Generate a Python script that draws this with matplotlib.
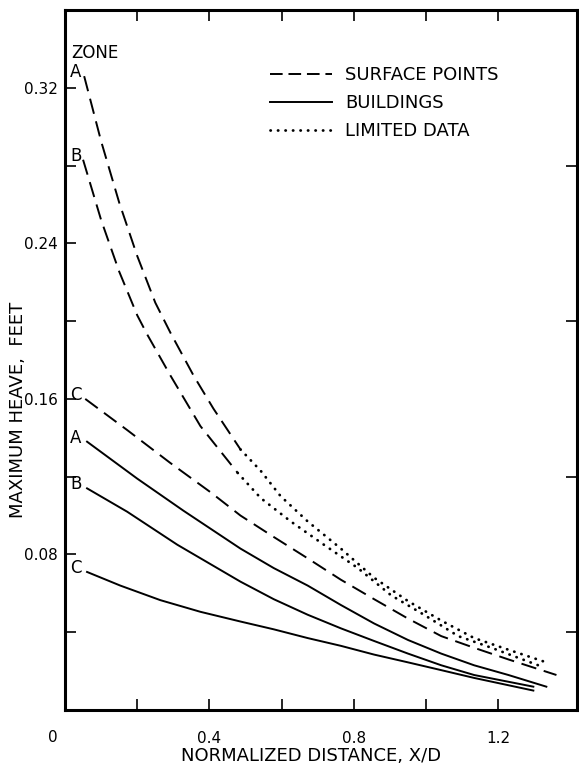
import matplotlib
matplotlib.use("Agg")
from matplotlib import pyplot as plt
import numpy as np

# surface points (dashed, then dotted where data are limited)
surf_a_x = [0.053, 0.1, 0.15, 0.2, 0.25, 0.292, 0.356, 0.411, 0.486, 0.542, 0.597, 0.672, 0.764, 0.856, 0.95, 1.042, 1.133, 1.228, 1.325]
surf_a_y = [0.326, 0.2925, 0.261, 0.2335, 0.2095, 0.194, 0.172, 0.155, 0.134, 0.123, 0.110, 0.097, 0.083, 0.068, 0.056, 0.046, 0.037, 0.031, 0.025]
surf_b_x = [0.05, 0.1, 0.15, 0.2, 0.228, 0.292, 0.375, 0.478, 0.542, 0.625, 0.717, 0.811, 0.903, 0.994, 1.089, 1.181, 1.325]
surf_b_y = [0.283, 0.252, 0.2255, 0.203, 0.193, 0.172, 0.146, 0.122, 0.109, 0.097, 0.085, 0.073, 0.059, 0.049, 0.038, 0.032, 0.022]
surf_c_x = [0.056, 0.172, 0.292, 0.403, 0.486, 0.578, 0.672, 0.764, 0.856, 0.95, 1.042, 1.133, 1.228, 1.361]
surf_c_y = [0.160, 0.144, 0.127, 0.112, 0.100, 0.089, 0.078, 0.067, 0.057, 0.047, 0.038, 0.032, 0.026, 0.018]
limited_from = 0.49  # zones A and B: dotted beyond this X/D

# buildings (solid)
bldg_a_x = [0.061, 0.2, 0.328, 0.486, 0.578, 0.672, 0.764, 0.856, 0.95, 1.042, 1.133, 1.228, 1.333]
bldg_a_y = [0.138, 0.119, 0.1025, 0.083, 0.073, 0.064, 0.054, 0.0445, 0.036, 0.029, 0.023, 0.018, 0.012]
bldg_b_x = [0.061, 0.172, 0.311, 0.486, 0.578, 0.672, 0.764, 0.856, 0.95, 1.042, 1.133, 1.297]
bldg_b_y = [0.114, 0.102, 0.085, 0.066, 0.057, 0.049, 0.042, 0.0355, 0.029, 0.023, 0.018, 0.012]
bldg_c_x = [0.061, 0.153, 0.264, 0.375, 0.486, 0.578, 0.672, 0.764, 0.856, 0.95, 1.042, 1.133, 1.297]
bldg_c_y = [0.071, 0.064, 0.0565, 0.0505, 0.0455, 0.0415, 0.037, 0.033, 0.0285, 0.0245, 0.0205, 0.0165, 0.010]

x_ticks = [0, 0.2, 0.4, 0.6, 0.8, 1.0, 1.2]
x_labels = ["", "", "0.4", "", "0.8", "", "1.2"]
y_ticks = [0.08, 0.16, 0.24, 0.32]
y_labels = ["0.08", "0.16", "0.24", "0.32"]

plt.rcParams["font.family"] = ["DejaVu Sans"]
fig = plt.figure(figsize=(5.79, 7.66), dpi=100)
ax = fig.add_axes([0.1123, 0.0731, 0.8843, 0.9138])

dash = (0, (8, 4))
dot = (0, (0.1, 2.6))
lw = 1.4

for xs, ys, split in [(surf_a_x, surf_a_y, True), (surf_b_x, surf_b_y, True), (surf_c_x, surf_c_y, False)]:
    xs = np.array(xs)
    ys = np.array(ys)
    if split:
        m = xs <= limited_from
        ax.plot(xs[m], ys[m], color="black", lw=lw, linestyle=dash)
        k = m.sum() - 1
        ax.plot(xs[k:], ys[k:], color="black", lw=2.0, linestyle=dot, dash_capstyle="round")
    else:
        ax.plot(xs, ys, color="black", lw=lw, linestyle=dash)

for xs, ys in [(bldg_a_x, bldg_a_y), (bldg_b_x, bldg_b_y), (bldg_c_x, bldg_c_y)]:
    ax.plot(xs, ys, color="black", lw=lw)

# zone letters beside each curve start
ax.text(0.017, 0.338, "ZONE", fontsize=12, ha="left", va="center")
for xs, ys, letter in [(surf_a_x, surf_a_y, "A"), (surf_b_x, surf_b_y, "B"), (surf_c_x, surf_c_y, "C"),
                       (bldg_a_x, bldg_a_y, "A"), (bldg_b_x, bldg_b_y, "B"), (bldg_c_x, bldg_c_y, "C")]:
    ax.text(0.03, ys[0] + 0.002, letter, fontsize=12, ha="center", va="center")

# legend keys
h1, = ax.plot([], [], color="black", lw=lw, linestyle=(0, (6.5, 3)))
h2, = ax.plot([], [], color="black", lw=lw)
h3, = ax.plot([], [], color="black", lw=2.0, linestyle=dot, dash_capstyle="round")
ax.legend([h1, h2, h3], ["SURFACE POINTS", "BUILDINGS", "LIMITED DATA"],
          loc="upper left", bbox_to_anchor=(0.369, 0.943), frameon=False, fontsize=13,
          handlelength=3.45, handletextpad=0.72, labelspacing=0.55)

ax.set_xlim(0, 1.418)
ax.set_ylim(0, 0.36)
ax.set_xticks(x_ticks)
ax.set_xticklabels(x_labels, fontsize=11)
ax.set_yticks(y_ticks)
ax.set_yticklabels(y_labels, fontsize=11)
ax.set_yticks(np.arange(0.04, 0.36, 0.04), minor=True)
ax.tick_params(direction="in", length=8, width=1.2, top=True, right=True, pad=5)
ax.tick_params(axis="x", pad=15)
ax.tick_params(which="minor", direction="in", length=8, width=1.2, left=True, right=True)
ax.tick_params(axis="y", which="major", right=False)
for s in ax.spines.values():
    s.set_linewidth(2.2)

ax.text(-0.033, -0.0139, "0", fontsize=11, ha="center", va="center")
fig.text(0.537, 0.0125, "NORMALIZED DISTANCE, X/D", fontsize=13, ha="center", va="center")
fig.text(0.031, 0.465, "MAXIMUM HEAVE,  FEET", fontsize=13, rotation=90, ha="center", va="center")

fig.savefig("out.png", dpi=100)
